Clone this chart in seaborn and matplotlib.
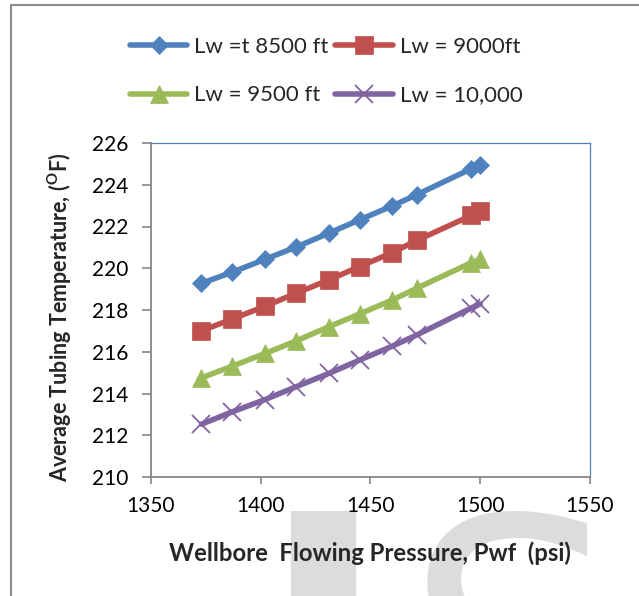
import matplotlib
matplotlib.use("Agg")
import matplotlib.pyplot as plt
from matplotlib.lines import Line2D
import seaborn as sns
import pandas as pd

pressure = [1373, 1387, 1402, 1416, 1431, 1445, 1460, 1471, 1496, 1500]
temp_8500 = [219.28, 219.81, 220.43, 221.01, 221.68, 222.32, 222.99, 223.52, 224.77, 224.96]
temp_9000 = [217.00, 217.57, 218.18, 218.80, 219.44, 220.08, 220.75, 221.33, 222.53, 222.72]
temp_9500 = [214.75, 215.31, 215.92, 216.51, 217.20, 217.81, 218.48, 219.04, 220.27, 220.43]
temp_10000 = [212.53, 213.12, 213.71, 214.32, 214.96, 215.60, 216.27, 216.80, 218.10, 218.29]
series_labels = ["Lw =t 8500 ft", "Lw = 9000ft", "Lw = 9500 ft", "Lw = 10,000"]
x_ticks = [1350, 1400, 1450, 1500, 1550]
y_ticks = [210, 212, 214, 216, 218, 220, 222, 224, 226]

sns.set_theme(style="white")
plt.rcParams["font.family"] = ["Lato", "DejaVu Sans"]
plt.rcParams["mathtext.fontset"] = "custom"
plt.rcParams["mathtext.rm"] = "Lato"
plt.rcParams["mathtext.bf"] = "Lato:bold"

fig = plt.figure(figsize=(6.39, 5.96), dpi=100)
ax = fig.add_axes([151/639, 1-477/596, (590-151)/639, (477-143)/596])

colors = ["#4F81BD", "#C0504D", "#9BBB59", "#8064A2"]
markers = ["D", "s", "^", "x"]
msizes = [9.5, 13.5, 13.5, 13.5]
all_vals = [temp_8500, temp_9000, temp_9500, temp_10000]

for vals, lab, c, m, ms in zip(all_vals, series_labels, colors, markers, msizes):
    df = pd.DataFrame({"p": pressure, "t": vals})
    sns.lineplot(data=df, x="p", y="t", ax=ax, color=c, marker=m, markersize=ms,
                 linewidth=4, label=lab,
                 markeredgecolor=c, markeredgewidth=(1.3 if m == "x" else 0.5),
                 markerfacecolor=c)

ax.set_xlim(1350, 1550)
ax.set_ylim(210, 226)
ax.set_xticks(x_ticks)
ax.set_yticks(y_ticks)
ax.tick_params(axis="both", labelsize=15, colors="#868686", labelcolor="black",
               direction="out", width=1.2)
ax.tick_params(axis="y", length=6.5, pad=10, left=True)
ax.tick_params(axis="x", length=5, pad=9, bottom=True)

for s in ["left", "bottom"]:
    ax.spines[s].set_color("#868686")
    ax.spines[s].set_linewidth(1.3)
for s in ["top", "right"]:
    ax.spines[s].set_color("#4F81BD")
    ax.spines[s].set_linewidth(0.9)

ax.set_xlabel("Wellbore  Flowing Pressure, Pwf  (psi)", fontsize=17.2, fontweight="bold")
ax.set_ylabel(r"Average Tubing Temperature, ($\mathbf{^{O}}$F)", fontsize=15.5, fontweight="bold")
ax.xaxis.set_label_coords((370-151)/439, (477-553)/334)
ax.xaxis.label.set_va("center")
ax.yaxis.set_label_coords((60-151)/439, (477-317)/334)
ax.yaxis.label.set_va("center")

handles, labels = ax.get_legend_handles_labels()
order = [0, 2, 1, 3]
leg = ax.legend([handles[i] for i in order], [labels[i] for i in order],
                ncol=2, loc="center", bbox_to_anchor=((326-151)/439, (477-71)/334),
                fontsize=16, frameon=False, handlelength=2.6, handletextpad=0.3,
                columnspacing=0.3, labelspacing=1.3, borderaxespad=0)

# outer chart border
fig.add_artist(Line2D([11/639, 1], [1-5/596, 1-5/596], transform=fig.transFigure,
                      color="#8c8c8c", linewidth=1.5))
fig.add_artist(Line2D([11/639, 11/639], [0, 1-5/596], transform=fig.transFigure,
                      color="#8c8c8c", linewidth=1.5))

# watermark
fig.text(258/639, -0.282, "I", fontsize=250, color="#dcdcdc", ha="left", va="baseline",
         family="DejaVu Sans", fontweight="bold", zorder=-1)
fig.text(405/639, -0.282, "S", fontsize=245, color="#dcdcdc", ha="left", va="baseline",
         family="DejaVu Sans", zorder=-1)

fig.savefig("out.png", dpi=100)
